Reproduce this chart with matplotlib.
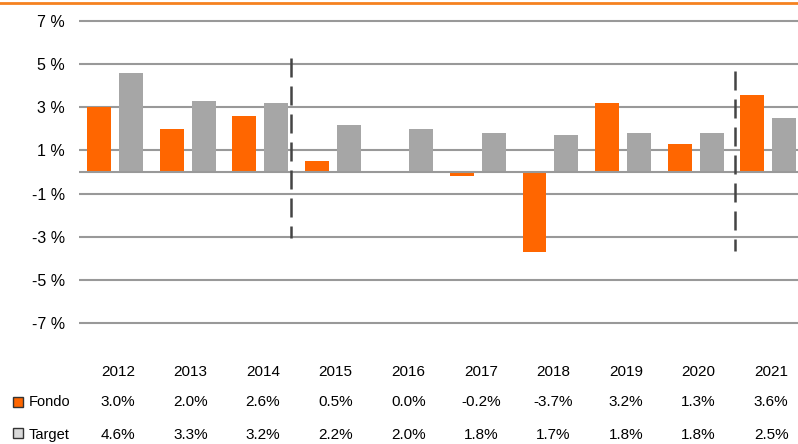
import numpy as np
import matplotlib
matplotlib.use("Agg")
import matplotlib.pyplot as plt
from matplotlib.patches import Rectangle
from matplotlib.lines import Line2D
import matplotlib.transforms as mtransforms

plt.rcParams['font.family'] = ['Liberation Sans', 'DejaVu Sans']

# dati
anni = ['2012', '2013', '2014', '2015', '2016', '2017', '2018', '2019', '2020', '2021']
fondo = [3.0, 2.0, 2.6, 0.5, 0.0, -0.2, -3.7, 3.2, 1.3, 3.6]
target = [4.6, 3.3, 3.2, 2.2, 2.0, 1.8, 1.7, 1.8, 1.8, 2.5]
y_ticks = [-7, -5, -3, -1, 1, 3, 5, 7]
separatori = [2.42, 8.54]          # linee tratteggiate verticali
sep_y = [(5.3, -3.07), (4.7, -3.67)]

arancio = '#ff6600'
grigio = '#a6a6a6'
fs = 11

W, H = 798, 444
fig = plt.figure(figsize=(W / 100, H / 100), dpi=100)
ax = fig.add_axes([78.7 / W, (H - 329) / H, (798 - 78.7) / W, (329 - 15) / H])

x = np.arange(len(anni))
bw = 0.33
ax.bar(x - 0.22, fondo, bw, color=arancio, zorder=3)
ax.bar(x + 0.22, target, bw, color=grigio, zorder=3)

for t in y_ticks:
    ax.axhline(t, color='#999999', lw=1.5, zorder=1)
ax.axhline(0, color='#999999', lw=1.5, zorder=4)

for xs, (y0, y1) in zip(separatori, sep_y):
    ax.plot([xs, xs], [y0, y1], color='#444444', lw=1.8, dashes=(7.6, 3.6), zorder=5)

ax.set_xlim(-0.5, 9.41)
ax.set_ylim(-7.3, 7.3)
ax.set_yticks(y_ticks)
ax.set_yticklabels([f'{t} %' for t in y_ticks], fontsize=fs + 0.5)
ax.tick_params(axis='y', length=0, pad=10)
ax.set_xticks([])
for s in ax.spines.values():
    s.set_visible(False)

# tabella sotto il grafico
tr = mtransforms.blended_transform_factory(ax.transData, fig.transFigure)
for i, a in enumerate(anni):
    ax.text(i + 0.04, 1 - 372 / H, a, transform=tr, ha='center', va='center', fontsize=fs, clip_on=False)
    ax.text(i + 0.04, 1 - 402 / H, f'{fondo[i]:.1f}%', transform=tr, ha='center', va='center', fontsize=fs, clip_on=False)
    ax.text(i + 0.04, 1 - 435 / H, f'{target[i]:.1f}%', transform=tr, ha='center', va='center', fontsize=fs, clip_on=False)

fig.patches.append(Rectangle((13 / W, 1 - 407 / H), 10 / W, 10 / H, transform=fig.transFigure,
                             facecolor=arancio, edgecolor='#333333', lw=1))
fig.patches.append(Rectangle((13 / W, 1 - 438 / H), 10 / W, 10 / H, transform=fig.transFigure,
                             facecolor='#d9d9d9', edgecolor='#333333', lw=1))
fig.text(29 / W, 1 - 402 / H, 'Fondo', ha='left', va='center', fontsize=fs - 0.5)
fig.text(29 / W, 1 - 435 / H, 'Target', ha='left', va='center', fontsize=fs - 0.5)

# linea arancione in alto
fig.lines.append(Line2D([0, 1], [1 - 3 / H, 1 - 3 / H], transform=fig.transFigure, color='#f58220', lw=2))

fig.savefig('out.png', dpi=100)
